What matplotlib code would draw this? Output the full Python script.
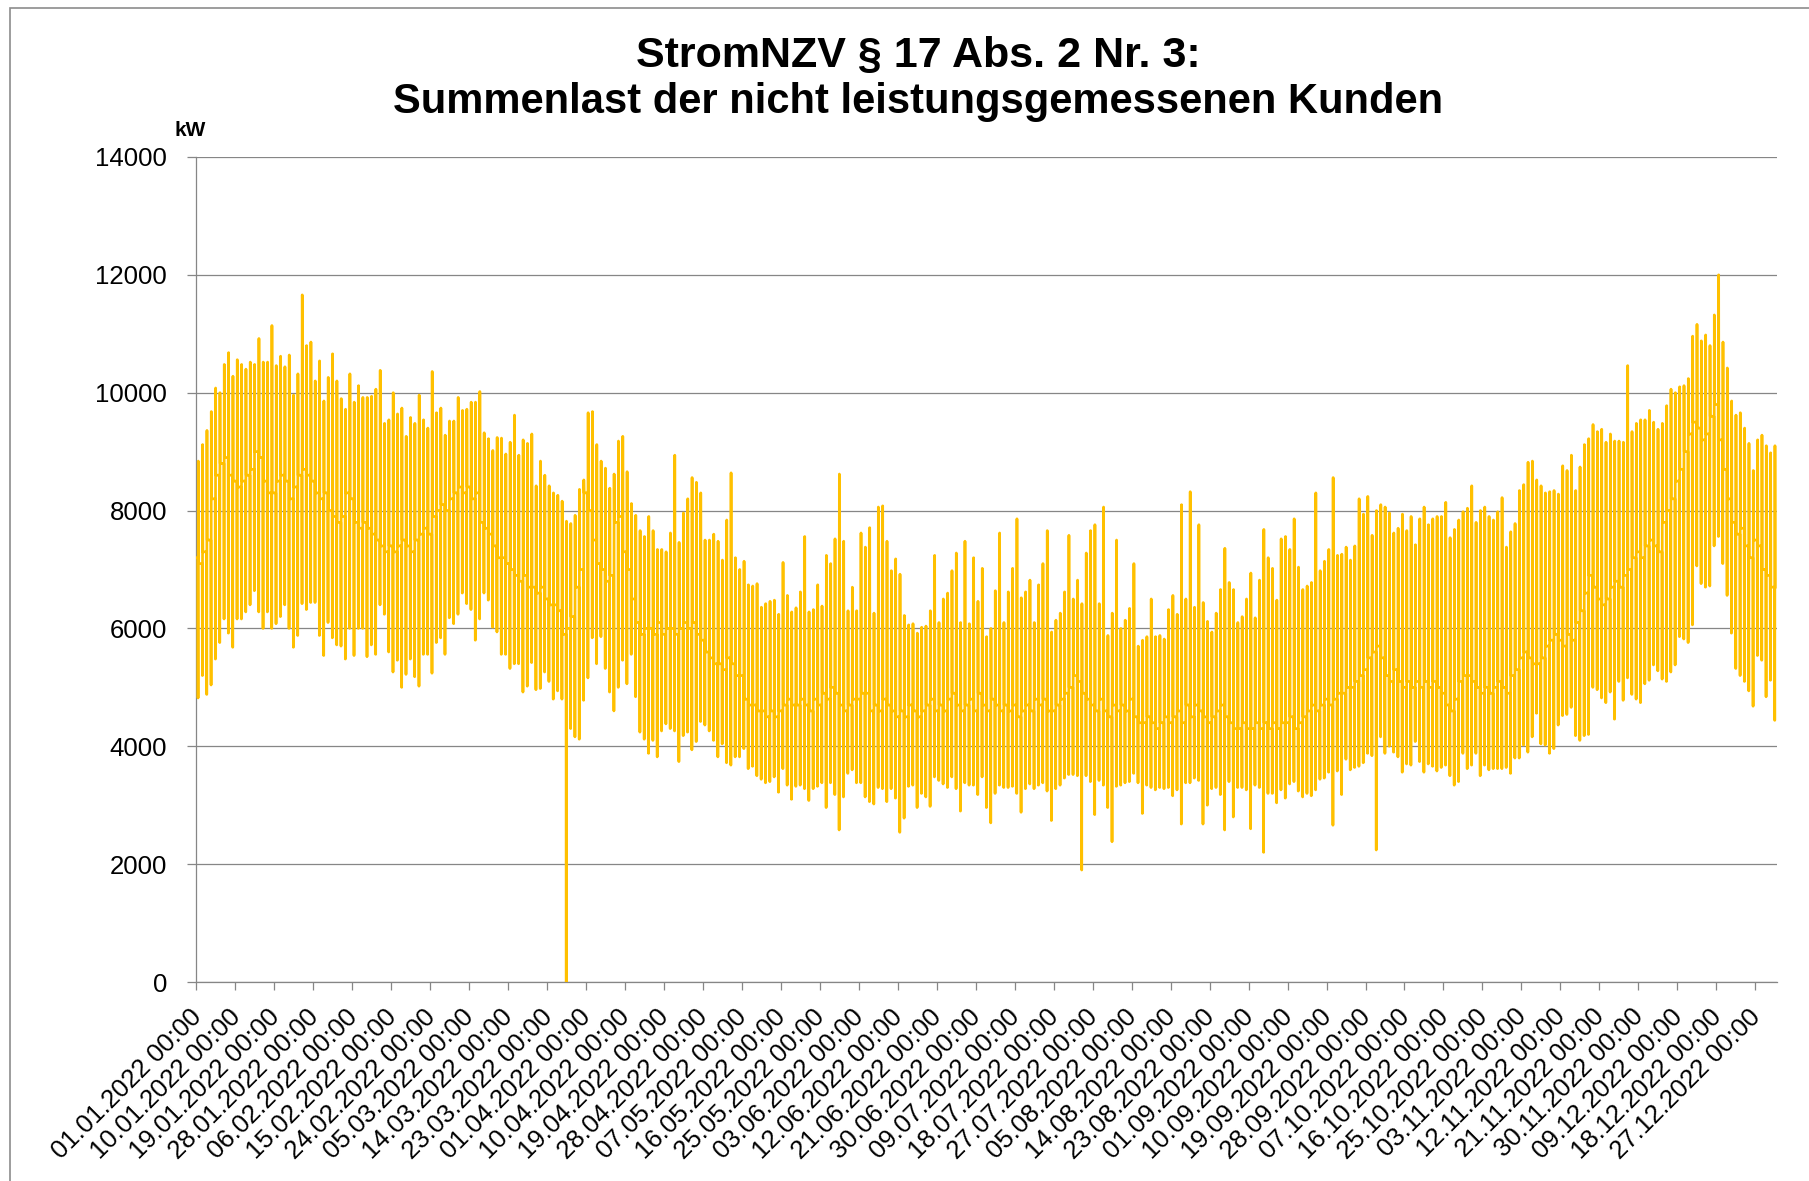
from datetime import date, timedelta

import matplotlib
matplotlib.use("Agg")
import matplotlib.pyplot as plt
import matplotlib.transforms as mtransforms
import numpy as np
from matplotlib.patches import Rectangle


# Tageswerte 2022 (kW)
# Tagesmaximum
DAY_HIGH = [
    8840, 9120, 9360, 9680, 10080, 10000, 10480, 10680, 10280, 10560, 10480, 10400, 10520, 10480, 10920, 10520,
    10520, 11140, 10460, 10620, 10440, 10640, 9960, 10320, 11660, 10800, 10860, 10200, 10540, 9860, 10260, 10660,
    10200, 9900, 9720, 10320, 9840, 10120, 9920, 9920, 9940, 10060, 10380, 9480, 9540, 10000, 9640,
    9740, 9260, 9580, 9480, 9960, 9540, 9400, 10360, 9660, 9740, 9280, 9520, 9520, 9920, 9700, 9720,
    9840, 9840, 10020, 9320, 9220, 9020, 9240, 9230, 8960, 9160, 9620, 8940, 9200, 9140, 9300, 8420,
    8840, 8600, 8420, 8300, 8260, 8160, 7820, 7780, 7920, 8360, 8520, 9660, 9680, 9120,
    8840, 8720, 8380, 8620, 9180, 9260, 8660, 8120, 7920, 7660, 7560, 7900, 7660, 7340, 7340, 7300,
    7620, 8940, 7460, 7960, 8200, 8560, 8480, 8300, 7500, 7500, 7600, 7480, 7160, 7840, 8640, 7200,
    7000, 7140, 6740, 6720, 6760, 6360, 6420, 6460, 6480, 6240, 7120, 6560, 6280, 6350,
    6620, 7560, 6280, 6320, 6740, 6380, 7240, 7100, 7520, 8620, 7480, 6300, 6700, 6300, 7620, 7380,
    7710, 6260, 8060, 8080, 7480, 6980, 7180, 6920, 6220, 6060, 6080, 5920, 6020, 6040, 6300, 7240,
    6100, 6500, 6600, 6980, 7280, 6100, 7480, 6080, 7200, 6460, 7020, 5860, 6000, 6640, 7620,
    6100, 6620, 7020, 7860, 6520, 6620, 6820, 6100, 6740, 7100, 7660, 5940, 6140, 6260, 6620, 7580,
    6500, 6820, 6420, 7280, 7660, 7760, 6420, 8060, 5880, 6260, 7500, 6000, 6140, 6340, 7100, 5700,
    5800, 5860, 6500, 5860, 5880, 5820, 6320, 6560, 6240, 8100, 6500, 8320, 6360, 7760,
    6440, 6120, 5940, 6260, 6660, 7360, 6780, 6660, 6100, 6200, 6500, 6940, 6180, 6820, 7680, 7200,
    7020, 6480, 7520, 7560, 7340, 7860, 7040, 6660, 6720, 6780, 8300, 6980, 7140, 7340, 8560, 7240,
    7260, 7380, 7160, 7400, 8200, 7940, 8240, 7580, 8000, 8100, 8060, 7960, 7620, 7700,
    7940, 7660, 7900, 7420, 7860, 8060, 7760, 7860, 7900, 7900, 8140, 7540, 7680, 7840, 7980, 8040,
    8420, 7800, 8000, 8060, 7900, 7840, 7980, 8220, 7380, 7640, 7780, 8340, 8440, 8820, 8840, 8520,
    8420, 8300, 8320, 8340, 8280, 8760, 8680, 8940, 8340, 8740, 9120, 9220, 9460, 9340,
    9380, 9160, 9300, 9180, 9180, 9160, 10460, 9340, 9480, 9540, 9540, 9700, 9500, 9380, 9480, 9780,
    10060, 10000, 10100, 10120, 10240, 10960, 11160, 10880, 10980, 10800, 11320, 12000, 10860, 10420, 9860, 9620,
    9660, 9400, 9140, 8680, 9200, 9280, 9100, 8980, 9100,
]

# Tagesminimum (27.03.: Zeitumstellung, Wert 0)
DAY_LOW = [
    4820, 5200, 4880, 5040, 5480, 5760, 6160, 5920, 5680, 6160, 6160, 6280, 6400, 6640, 6280, 6000,
    6280, 6000, 6080, 6200, 6400, 6000, 5680, 5880, 6420, 6320, 6440, 6440, 5880, 5540, 6100, 5840,
    5720, 5700, 5480, 6000, 5540, 6000, 6000, 5520, 5720, 5560, 6400, 6240, 5600, 5260, 5460,
    5000, 5220, 5480, 5180, 5020, 5560, 5560, 5240, 5760, 5840, 5560, 6180, 6080, 6240, 6600, 6420,
    6320, 5800, 6160, 6600, 6480, 6020, 5940, 5560, 5560, 5320, 5400, 5400, 4920, 5020, 5420, 4960,
    4980, 5260, 5100, 4800, 4940, 4800, 0, 4300, 4160, 4120, 4780, 5160, 5840, 5400,
    5860, 5320, 4920, 4600, 5000, 5460, 5060, 5560, 4840, 4240, 4120, 3880, 4100, 3820, 4260, 4380,
    4300, 4260, 3740, 4180, 4240, 3940, 4080, 4420, 4360, 4260, 4100, 3820, 4040, 3720, 3680, 3820,
    3820, 3960, 3620, 3660, 3500, 3440, 3380, 3400, 3480, 3220, 3620, 3340, 3100, 3320,
    3340, 3280, 3080, 3280, 3320, 3380, 2960, 3380, 3180, 2580, 3140, 3540, 3600, 3380, 3380, 3140,
    3060, 3020, 3300, 3280, 3060, 3280, 3120, 2540, 2780, 3320, 3340, 2960, 3200, 3140, 2980, 3480,
    3420, 3360, 3300, 3480, 3280, 2900, 3380, 3340, 3340, 3180, 3480, 2960, 2700, 3200, 3340,
    3300, 3300, 3320, 3200, 2880, 3280, 3360, 3280, 3340, 3380, 3240, 2740, 3280, 3340, 3460, 3520,
    3520, 3500, 1900, 3500, 3400, 2840, 3420, 3340, 2960, 2380, 3320, 3340, 3380, 3400, 3540, 3380,
    2860, 3340, 3300, 3260, 3300, 3280, 3300, 3160, 3260, 2680, 3380, 3380, 3460, 3420,
    2680, 3000, 3280, 3300, 3180, 2580, 3400, 2800, 3300, 3300, 3260, 2600, 3340, 3300, 2200, 3200,
    3200, 3040, 3260, 3120, 3360, 3400, 3240, 3140, 3200, 3160, 3260, 3440, 3460, 3560, 2660, 3580,
    3180, 3780, 3600, 3640, 3660, 3720, 3880, 3840, 2240, 4160, 3880, 4000, 3900, 3820,
    3560, 3700, 3680, 4080, 3740, 3560, 3700, 3660, 3580, 3640, 3680, 3500, 3340, 3400, 3880, 3620,
    3680, 3880, 3500, 3680, 3600, 3620, 3620, 3620, 3640, 3540, 3800, 3800, 4020, 3900, 4160, 4560,
    4040, 4020, 3880, 3960, 4360, 4520, 4540, 4660, 4180, 4100, 4180, 4200, 5000, 4960,
    4820, 4740, 4920, 4460, 5100, 4780, 5160, 4880, 4800, 4740, 5060, 5120, 5380, 5280, 5140, 5100,
    5260, 5380, 5860, 5820, 5760, 6060, 7060, 6760, 6700, 6720, 7400, 7560, 7100, 6560, 5920, 5320,
    5200, 5100, 4940, 4680, 5540, 5460, 4840, 5120, 4440,
]

# Wert um Mitternacht (Übergang zwischen den Tagen)
DAY_MIDNIGHT = [
    7200, 7100, 7300, 7500, 8200, 8600, 8800, 8900, 8600, 8500, 8400, 8500, 8600, 8700, 9000, 8900,
    8500, 8300, 8300, 8500, 8600, 8500, 8200, 8400, 8600, 8700, 8600, 8500, 8300, 8200, 8300, 8000,
    7900, 7800, 7900, 8300, 8200, 7800, 7700, 7800, 7700, 7600, 7500, 7400, 7300, 7400, 7300,
    7400, 7500, 7400, 7300, 7500, 7600, 7700, 7600, 7900, 8000, 8100, 8000, 8200, 8300, 8400, 8300,
    8400, 8200, 8300, 7800, 7700, 7600, 7400, 7200, 7200, 7100, 7000, 6900, 6800, 6900, 6700, 6700,
    6600, 6700, 6500, 6400, 6400, 6300, 5900, 6000, 6200, 6700, 7000, 8300, 8000, 7500,
    7100, 7000, 6800, 6900, 7800, 7900, 7300, 7000, 6500, 6100, 5900, 6000, 6000, 5900, 6100, 5900,
    6000, 6000, 5900, 6000, 6100, 6000, 6100, 5900, 5800, 5600, 5500, 5400, 5400, 5300, 5500, 5400,
    5200, 5200, 4800, 4700, 4700, 4600, 4600, 4500, 4600, 4500, 4600, 4700, 4800, 4700,
    4700, 4800, 4700, 4600, 4800, 4700, 4900, 4800, 5000, 4900, 4700, 4600, 4700, 4800, 4800, 4900,
    4900, 4600, 4700, 4600, 4800, 4700, 4600, 4500, 4600, 4500, 4700, 4600, 4500, 4600, 4700, 4800,
    4600, 4700, 4600, 4800, 4900, 4700, 4600, 4700, 4800, 4600, 4900, 4700, 4600, 4800, 4700,
    4600, 4700, 4600, 4700, 4500, 4600, 4700, 4600, 4800, 4700, 4800, 4600, 4600, 4700, 4800, 4900,
    5000, 5200, 5100, 4900, 4800, 4700, 4600, 4800, 4600, 4500, 4700, 4600, 4700, 4600, 4800, 4500,
    4400, 4400, 4500, 4400, 4300, 4400, 4500, 4400, 4500, 4600, 4400, 4700, 4500, 4700,
    4600, 4500, 4400, 4500, 4600, 4700, 4500, 4400, 4300, 4300, 4400, 4300, 4300, 4400, 4300, 4400,
    4300, 4400, 4300, 4400, 4400, 4500, 4300, 4400, 4500, 4600, 4700, 4600, 4700, 4800, 4700, 4800,
    4900, 4900, 5000, 5000, 5100, 5200, 5300, 5500, 5600, 5700, 5500, 5200, 5100, 5300,
    5100, 5000, 5100, 5000, 5100, 5000, 5100, 5000, 5100, 5000, 4900, 4700, 4600, 4800, 5100, 5200,
    5200, 5100, 5000, 4900, 5000, 4900, 5000, 5100, 5000, 4900, 5200, 5300, 5500, 5600, 5500, 5400,
    5400, 5500, 5700, 5800, 5900, 5800, 5700, 5900, 5800, 6100, 6300, 6600, 6900, 6700,
    6500, 6400, 6500, 6700, 6800, 6700, 6900, 7000, 7200, 7300, 7200, 7400, 7500, 7400, 7300, 7800,
    8000, 8200, 8500, 8700, 9000, 9300, 9500, 9400, 9200, 9300, 9600, 9800, 9200, 8700, 8200, 7800,
    7600, 7700, 7400, 7200, 7500, 7400, 7000, 6900, 6700,
]

Y_TICKS = [0, 2000, 4000, 6000, 8000, 10000, 12000, 14000]
TICK_STEP_DAYS = 9
YEAR_START = date(2022, 1, 1)

TITLE_LINES = ["StromNZV § 17 Abs. 2 Nr. 3:", "Summenlast der nicht leistungsgemessenen Kunden"]
UNIT = "kW"

LINE_COLOR = "#FFC000"
AXIS_GRAY = "#868686"
FONT = ["Liberation Sans", "DejaVu Sans"]

W, H = 1809, 1181


def main() -> None:
    plt.rcParams["font.family"] = FONT

    n_days = len(DAY_HIGH)
    days = np.arange(n_days)
    mid = np.asarray(DAY_MIDNIGHT)
    # je Tag ein senkrechter Ausschlag: Mitternacht -> Tief -> Hoch -> nächste Mitternacht
    x = np.column_stack([days, days + 0.43, days + 0.48, days + 0.53, days + 0.58]).ravel()
    y = np.column_stack([mid, mid, DAY_LOW, DAY_HIGH, np.r_[mid[1:], mid[-1]]]).ravel()

    fig = plt.figure(figsize=(W / 100, H / 100), dpi=100)
    ax = fig.add_axes([196 / W, 1 - 982 / H, (1777 - 196) / W, (982 - 157) / H])

    ax.plot(x, y, color=LINE_COLOR, linewidth=1.95, zorder=3)

    ax.set_xlim(0, n_days)
    ax.set_ylim(0, 14000)
    ax.set_yticks(Y_TICKS)
    ax.set_yticklabels([str(v) for v in Y_TICKS])

    tick_days = list(range(0, n_days, TICK_STEP_DAYS))
    tick_labels = [(YEAR_START + timedelta(days=d)).strftime("%d.%m.%Y 00:00") for d in tick_days]
    ax.set_xticks(tick_days)
    ax.set_xticklabels(tick_labels, rotation=45, ha="right", va="top", rotation_mode="anchor")

    ax.grid(axis="y", color=AXIS_GRAY, linewidth=0.9, zorder=1)
    ax.set_axisbelow(True)
    for side in ("top", "right"):
        ax.spines[side].set_visible(False)
    for side in ("left", "bottom"):
        ax.spines[side].set_color(AXIS_GRAY)
        ax.spines[side].set_linewidth(0.9)

    ax.tick_params(axis="both", colors=AXIS_GRAY, width=0.9, labelcolor="black", labelsize=18.5)
    ax.tick_params(axis="x", length=5.8, pad=10.4)
    ax.tick_params(axis="y", length=6.5, pad=14.4)

    shift = mtransforms.ScaledTranslation(-7 / 100, 0, fig.dpi_scale_trans)
    for label in ax.get_xticklabels():
        label.set_transform(label.get_transform() + shift)

    fig.text(918 / W, 1 - 67 / H, TITLE_LINES[0], ha="center", va="baseline",
             fontsize=31, fontweight="bold")
    fig.text(918 / W, 1 - 113 / H, TITLE_LINES[1], ha="center", va="baseline",
             fontsize=30, fontweight="bold")
    fig.text(190 / W, 1 - 131 / H, UNIT, ha="center", va="center", fontsize=15, fontweight="bold")

    # Rahmen des Diagrammbereichs (rechts/unten abgeschnitten)
    fig.add_artist(Rectangle((10 / W, -0.2), 1.5, 0.2 + 1 - 8 / H, transform=fig.transFigure,
                             fill=False, edgecolor="#8c8c8c", linewidth=1.2, clip_on=False))

    fig.savefig("out.png", dpi=100)


if __name__ == "__main__":
    main()
